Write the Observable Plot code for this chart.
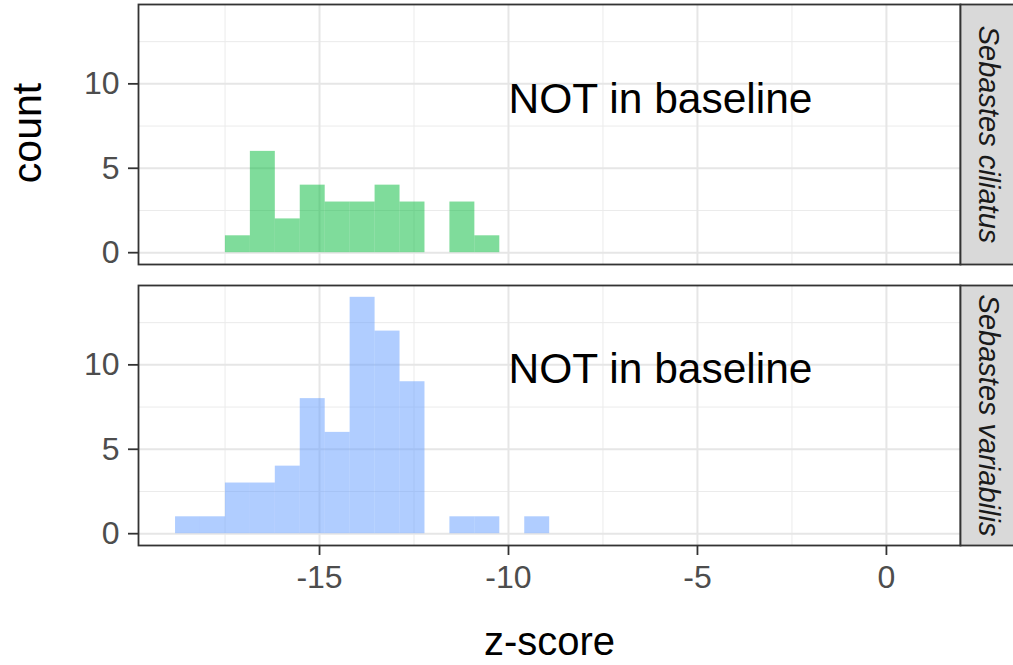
<!DOCTYPE html>
<html>
<head>
<meta charset="utf-8">
<script src="https://cdn.jsdelivr.net/npm/d3@7"></script>
<script src="https://cdn.jsdelivr.net/npm/@observablehq/plot@0.6"></script>
<style>
  html, body { margin: 0; padding: 0; background: #ffffff; }
  #chart { width: 1013px; height: 665px; }
</style>
</head>
<body>
<div id="chart"></div>
<script>
// ---- data ----
const species = ["Sebastes ciliatus", "Sebastes variabilis"];
const binWidth = 0.66;
const binStarts = [-18.81, -18.15, -17.49, -16.83, -16.17, -15.51, -14.85, -14.19, -13.53, -12.87, -12.21, -11.55, -10.89, -10.23, -9.57];
const countsCiliatus   = [0, 0, 1, 6, 2, 4, 3, 3, 4, 3, 0, 3, 1, 0, 0];
const countsVariabilis = [1, 1, 3, 3, 4, 8, 6, 14, 12, 9, 0, 1, 1, 0, 1];
const fillColors = ["#00BA38", "#619CFF"];
const xTicks = [-15, -10, -5, 0];
const xMinorTicks = [-17.5, -12.5, -7.5, -2.5];
const yTicks = [0, 5, 10];
const yMinorTicks = [2.5, 7.5, 12.5];
const xDomain = [-19.79, 1.96];
const yDomain = [-0.7, 14.7];
const annotationText = "NOT in baseline";
const annotationX = [-10, -10];
const annotationY = [9.1, 9.75];
const xTitle = "z-score";
const yTitle = "count";

// ---- tables built from the arrays ----
const countsBySpecies = [countsCiliatus, countsVariabilis];
const bins = [];
species.forEach((s, k) => {
  binStarts.forEach((b, i) => {
    bins.push({species: s, x1: b, x2: b + binWidth, count: countsBySpecies[k][i], color: fillColors[k]});
  });
});
const annotations = species.map((s, k) => ({species: s, x: annotationX[k], y: annotationY[k], text: annotationText}));

const W = 1013, H = 665;
const mL = 138, mR = 53, mT = 4, mB = 120;
const frameW = W - mL - mR;
const font = "'Liberation Sans', Arial, Helvetica, sans-serif";

const chart = Plot.plot({
  width: W,
  height: H,
  marginLeft: mL,
  marginRight: mR,
  marginTop: mT,
  marginBottom: mB,
  style: {fontFamily: font, background: "#ffffff", overflow: "visible"},
  x: {domain: xDomain, axis: null},
  y: {domain: yDomain, axis: null},
  fy: {domain: species, paddingInner: 0.0765, paddingOuter: 0, axis: null},
  marks: [
    Plot.gridX(xMinorTicks, {stroke: "#EBEBEB", strokeOpacity: 1, strokeWidth: 1}),
    Plot.gridY(yMinorTicks, {stroke: "#EBEBEB", strokeOpacity: 1, strokeWidth: 1}),
    Plot.gridX(xTicks, {stroke: "#E6E6E6", strokeOpacity: 1, strokeWidth: 2}),
    Plot.gridY(yTicks, {stroke: "#E6E6E6", strokeOpacity: 1, strokeWidth: 2}),
    Plot.rectY(bins, {
      fy: "species",
      x1: "x1",
      x2: "x2",
      y1: () => 0,
      y2: "count",
      fill: "color",
      fillOpacity: 0.5
    }),
    Plot.text(annotations, {
      fy: "species",
      x: "x",
      y: "y",
      text: "text",
      textAnchor: "start",
      lineAnchor: "middle",
      fontSize: 42.5,
      fill: "#000000"
    }),
    Plot.frame({stroke: "#333333", strokeWidth: 1.8}),
    // facet strips on the right
    Plot.frame({fill: "#D9D9D9", stroke: "#333333", strokeWidth: 1.8, insetLeft: frameW, insetRight: -60}),
    Plot.text(species, {
      fy: d => d,
      text: d => d,
      frameAnchor: "right",
      textAnchor: "middle",
      lineAnchor: "middle",
      dx: 28,
      rotate: 90,
      fontStyle: "italic",
      fontSize: 29,
      fill: "#1A1A1A"
    }),
    Plot.axisY({
      ticks: yTicks,
      tickSize: 10,
      tickPadding: 9,
      strokeWidth: 1.8,
      stroke: "#333333",
      fill: "#4D4D4D",
      fontSize: 32,
      label: null
    }),
    Plot.axisX({
      ticks: xTicks,
      tickSize: 10,
      tickPadding: 10,
      strokeWidth: 1.8,
      stroke: "#333333",
      fill: "#4D4D4D",
      fontSize: 32,
      tickFormat: d => String(d),
      label: null
    }),
    Plot.text([species[0]], {
      fy: d => d,
      text: () => yTitle,
      frameAnchor: "left",
      textAnchor: "middle",
      lineAnchor: "middle",
      dx: -111,
      dy: -1.5,
      rotate: -90,
      fontSize: 41,
      fill: "#000000"
    }),
    Plot.text([species[1]], {
      fy: d => d,
      text: () => xTitle,
      frameAnchor: "bottom",
      textAnchor: "middle",
      lineAnchor: "middle",
      dy: 97,
      fontSize: 40,
      fill: "#000000"
    })
  ]
});
document.getElementById("chart").appendChild(chart);
</script>
</body>
</html>
